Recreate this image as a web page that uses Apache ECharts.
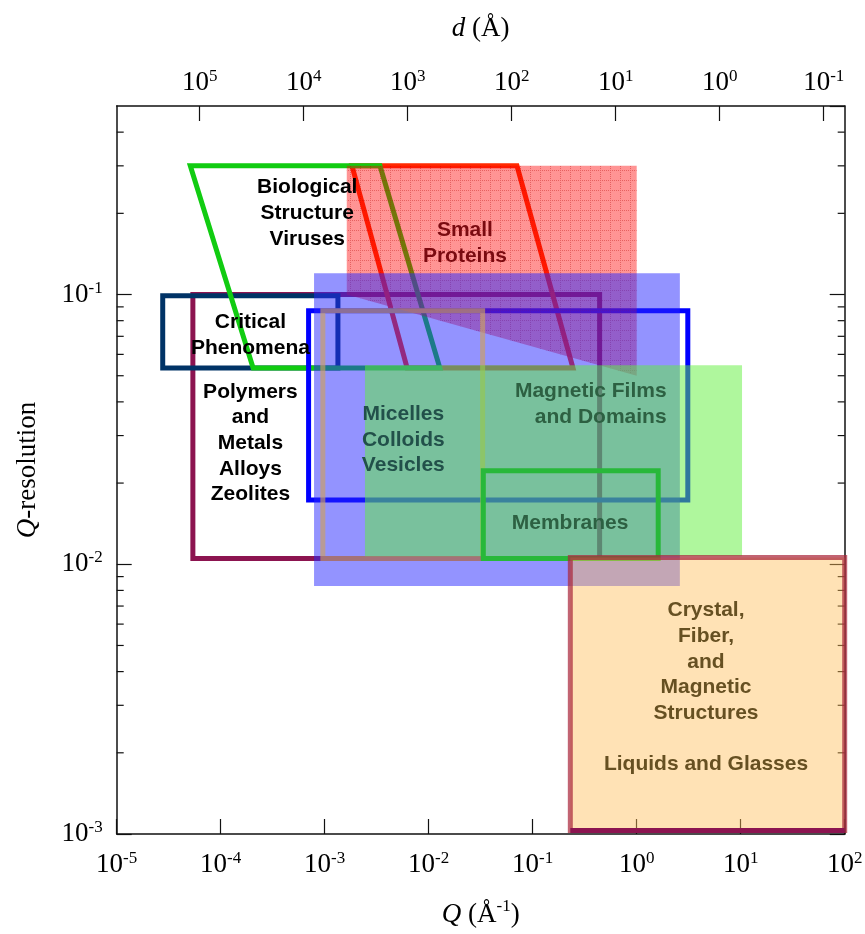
<!DOCTYPE html>
<html>
<head>
<meta charset="utf-8">
<script src="https://cdn.jsdelivr.net/npm/echarts@6/dist/echarts.min.js"></script>
<style>
  html, body { margin: 0; padding: 0; background: #fff; }
  #chart { width: 865px; height: 934px; }
</style>
</head>
<body>
<div id="chart"></div>
<script>
// ---- Axis ranges (Q in 1/Å, resolution dimensionless) ----
const qRange = [1e-5, 100];
const resRange = [1e-3, 0.5];
const resMinorTicks = [0.002, 0.003, 0.004, 0.005, 0.006, 0.007, 0.008, 0.009,
                       0.02, 0.03, 0.04, 0.05, 0.06, 0.07, 0.08, 0.09,
                       0.2, 0.3, 0.4];

// ---- Rectangular regions: [qMin, qMax, resMin, resMax] ----
const polymersBox  = [5.4e-5, 0.44, 0.0105, 0.1];
const criticalBox  = [2.77e-5, 1.34e-3, 0.0534, 0.099];
const colloidBox   = [7.0e-4, 3.1, 0.0173, 0.087];
const micelleBox   = [9.6e-4, 0.033, 0.0105, 0.087];
const membraneBox  = [0.0335, 1.61, 0.0105, 0.0222];
const crystalBox   = [0.23, 100, 0.00103, 0.0106];
const blueField    = [7.9e-4, 2.6, 0.0083, 0.12];
const greenField   = [2.44e-3, 10.3, 0.0107, 0.0547];

// ---- Slanted regions: [Q, resolution] vertices ----
const bioOutline     = [[5.1e-5, 0.3], [3.4e-3, 0.3], [0.0128, 0.0534], [2.05e-4, 0.0534]];
const proteinOutline = [[1.83e-3, 0.3], [0.0706, 0.3], [0.244, 0.0534], [6.2e-3, 0.0534]];
const proteinField   = [[1.63e-3, 0.3], [1, 0.3], [1, 0.05], [1.63e-3, 0.1]];

// ---- Region names: text, anchor [Q, resolution], colour, alignment ----
const regionLabels = [
  { text: 'Biological\nStructure\nViruses', at: [6.8e-4, 0.2], color: '#000000', align: 'center' },
  { text: 'Small\nProteins', at: [0.0223, 0.155], color: '#7a0a10', align: 'center' },
  { text: 'Critical\nPhenomena', at: [1.93e-4, 0.0707], color: '#000000', align: 'center' },
  { text: 'Polymers\nand\nMetals\nAlloys\nZeolites', at: [1.93e-4, 0.0281], color: '#000000', align: 'center' },
  { text: 'Micelles\nColloids\nVesicles', at: [5.7e-3, 0.0289], color: '#22504a', align: 'center' },
  { text: 'Magnetic Films\nand Domains', at: [1.94, 0.0393], color: '#2d6042', align: 'right' },
  { text: 'Membranes', at: [0.229, 0.01424], color: '#2d6042', align: 'center' },
  { text: 'Crystal,\nFiber,\nand\nMagnetic\nStructures\n\nLiquids and Glasses', at: [4.64, 0.00349], color: '#665022', align: 'center' }
];

function boxCorners(b) {
  return [[b[0], b[2]], [b[1], b[2]], [b[1], b[3]], [b[0], b[3]]];
}

// One custom series per drawn layer so that stacking follows series order
function shapeLayer(name, kind, points, style) {
  return {
    name: name,
    type: 'custom',
    coordinateSystem: 'cartesian2d',
    xAxisIndex: 0, yAxisIndex: 0,
    clip: false, silent: true,
    data: [points[0]],
    renderItem: function (params, api) {
      return {
        type: kind,
        shape: { points: points.map(function (p) { return api.coord(p); }) },
        style: style
      };
    }
  };
}

function outlineStyle(color) {
  return { fill: 'none', stroke: color, lineWidth: 5, lineJoin: 'miter' };
}

// Translucent fill crossed by a faint dotted grid, as printed in the protein band
function gridPattern(base, line, step) {
  const c = document.createElement('canvas');
  c.width = step; c.height = step;
  const g = c.getContext('2d');
  g.fillStyle = base;
  g.fillRect(0, 0, step, step);
  g.clearRect(0, 0, 1, step);
  g.clearRect(0, 0, step, 1);
  for (let i = 0; i < step; i++) {
    g.fillStyle = (i % 2 === 0) ? line : base;
    g.fillRect(0, i, 1, 1);
    if (i > 0) g.fillRect(i, 0, 1, 1);
  }
  return { image: c, repeat: 'repeat' };
}

const SERIF = '"Liberation Serif", "Times New Roman", serif';
const SANS = '"Liberation Sans", Arial, sans-serif';

function powLabel(v) {
  const e = Math.round(Math.log10(v));
  return '{b|10}{s|' + e + '}';
}
const powRich = {
  b: { fontFamily: SERIF, fontSize: 27, lineHeight: 30, color: '#000' },
  s: { fontFamily: SERIF, fontSize: 17, lineHeight: 20, verticalAlign: 'top', color: '#000' }
};
const nameRich = {
  i: { fontFamily: SERIF, fontStyle: 'italic', fontSize: 27, lineHeight: 34, color: '#000' },
  n: { fontFamily: SERIF, fontSize: 27, lineHeight: 34, color: '#000' },
  s: { fontFamily: SERIF, fontSize: 17, lineHeight: 24, verticalAlign: 'top', color: '#000' }
};

const axisLineStyle = { color: '#111', width: 1.5 };
const majorTick = { show: true, inside: true, length: 15, lineStyle: { color: '#111', width: 1.2 } };

const series = [
  // minor ticks of the resolution scale on both side frames
  {
    name: 'minor ticks',
    type: 'custom',
    coordinateSystem: 'cartesian2d',
    xAxisIndex: 0, yAxisIndex: 0,
    clip: false, silent: true,
    data: resMinorTicks.map(function (r) { return [qRange[0], r]; }),
    renderItem: function (params, api) {
      const r = api.value(1);
      const l = api.coord([qRange[0], r]);
      const rt = api.coord([qRange[1], r]);
      return {
        type: 'group',
        children: [
          { type: 'line', shape: { x1: l[0], y1: l[1], x2: l[0] + 7, y2: l[1] }, style: { stroke: '#111', lineWidth: 1.2 } },
          { type: 'line', shape: { x1: rt[0], y1: rt[1], x2: rt[0] - 7, y2: rt[1] }, style: { stroke: '#111', lineWidth: 1.2 } }
        ]
      };
    }
  },
  shapeLayer('Polymers', 'polygon', boxCorners(polymersBox), outlineStyle('#8c1450')),
  shapeLayer('Critical', 'polygon', boxCorners(criticalBox), outlineStyle('#003366')),
  shapeLayer('Proteins', 'polygon', proteinOutline, outlineStyle('#ff2a00')),
  shapeLayer('Biological', 'polygon', bioOutline, outlineStyle('#11cc11')),
  shapeLayer('Colloids', 'polygon', boxCorners(colloidBox), outlineStyle('#0000ff')),
  shapeLayer('Proteins field', 'polygon', proteinField, { fill: gridPattern('rgba(255,0,0,0.42)', 'rgba(215,0,0,0.62)', 10), stroke: 'none' }),
  shapeLayer('Blue field', 'polygon', boxCorners(blueField), { fill: 'rgba(40,40,255,0.5)', stroke: 'none' }),
  shapeLayer('Micelles', 'polygon', boxCorners(micelleBox), outlineStyle('rgba(205,160,95,0.65)')),
  shapeLayer('Green field', 'polygon', boxCorners(greenField), { fill: 'rgba(95,240,60,0.5)', stroke: 'none' }),
  shapeLayer('Membranes', 'polygon', boxCorners(membraneBox), outlineStyle('#28b83a')),
  shapeLayer('Crystal field', 'polygon', boxCorners(crystalBox), { fill: 'rgba(255,190,90,0.45)', stroke: 'rgba(170,40,60,0.72)', lineWidth: 5, lineJoin: 'miter' }),
  shapeLayer('Crystal base', 'polyline', boxCorners(crystalBox).slice(0, 2), { fill: 'none', stroke: '#8c1450', lineWidth: 5 }),
  // region names
  {
    name: 'labels',
    type: 'custom',
    coordinateSystem: 'cartesian2d',
    xAxisIndex: 0, yAxisIndex: 0,
    clip: false, silent: true,
    data: regionLabels.map(function (d) { return d.at; }),
    renderItem: function (params, api) {
      const d = regionLabels[params.dataIndex];
      const p = api.coord(d.at);
      return {
        type: 'text',
        style: {
          text: d.text, x: p[0], y: p[1],
          fill: d.color,
          fontFamily: SANS, fontWeight: 'bold', fontSize: 21, lineHeight: 25.7,
          align: d.align, verticalAlign: 'middle'
        }
      };
    }
  }
];

const option = {
  animation: false,
  backgroundColor: '#fff',
  grid: { left: 116.7, right: 20.3, top: 106, bottom: 100, containLabel: false, outerBoundsMode: 'none' },
  xAxis: [
    {
      type: 'log', position: 'bottom', min: qRange[0], max: qRange[1],
      axisLine: { show: true, lineStyle: axisLineStyle },
      axisTick: majorTick,
      splitLine: { show: false },
      axisLabel: { formatter: powLabel, rich: powRich, margin: 16 },
      name: '{i|Q}{n| (Å}{s|-1}{n|)}', nameLocation: 'middle', nameGap: 64,
      nameTextStyle: { rich: nameRich }
    },
    {
      type: 'log', position: 'top', inverse: true,
      min: 2 * Math.PI / qRange[1], max: 2 * Math.PI / qRange[0],
      axisLine: { show: true, lineStyle: axisLineStyle },
      axisTick: majorTick,
      splitLine: { show: false },
      axisLabel: { formatter: powLabel, rich: powRich, margin: 8, showMinLabel: false, showMaxLabel: false },
      name: '{i|d}{n| (Å)}', nameLocation: 'middle', nameGap: 60,
      nameTextStyle: { rich: nameRich }
    }
  ],
  yAxis: [
    {
      type: 'log', position: 'left', min: resRange[0], max: resRange[1],
      axisLine: { show: true, lineStyle: axisLineStyle },
      axisTick: majorTick,
      splitLine: { show: false },
      axisLabel: { formatter: powLabel, rich: powRich, margin: 14, showMaxLabel: false },
      name: '{i|Q}{n|-resolution}', nameLocation: 'middle', nameRotate: 90, nameGap: 72,
      nameTextStyle: { rich: nameRich }
    },
    {
      type: 'log', position: 'right', min: resRange[0], max: resRange[1],
      axisLine: { show: true, lineStyle: axisLineStyle },
      axisTick: majorTick,
      splitLine: { show: false },
      axisLabel: { show: false }
    }
  ],
  series: series
};

const chart = echarts.init(document.getElementById('chart'), null, { renderer: 'canvas' });
chart.setOption(option);
</script>
</body>
</html>
